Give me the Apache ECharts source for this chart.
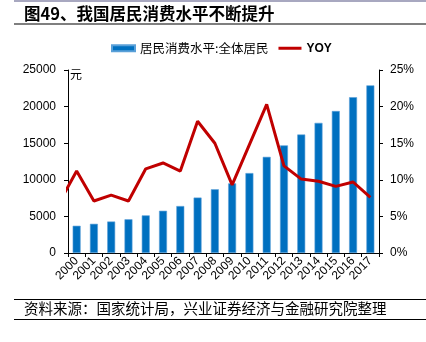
<!DOCTYPE html>
<html><head><meta charset="utf-8">
<script src="https://cdn.jsdelivr.net/npm/echarts@6/dist/echarts.min.js"></script>
<style>html,body{margin:0;padding:0;background:#fff}#c{width:426px;height:342px}</style>
</head><body><div id="c"></div>
<script>
const categories = ['2000','2001','2002','2003','2004','2005','2006','2007','2008','2009','2010','2011','2012','2013','2014','2015','2016','2017'];
const consumption = [3721,3987,4301,4606,5138,5771,6416,7572,8707,9514,10919,13134,14699,16190,17778,19397,21285,22902];
const yoyYears = [1999,2000,2001,2002,2003,2004,2005,2006,2007,2008,2009,2010,2011,2012,2013,2014,2015,2016,2017];
const yoy = [6.9,11.2,7.1,7.9,7.1,11.5,12.3,11.2,18.0,15.0,9.3,14.8,20.3,11.9,10.1,9.8,9.1,9.7,7.6];

const chart = echarts.init(document.getElementById('c'));
const fontCJK = '"Noto Sans CJK SC", sans-serif';
const fontNum = '"Liberation Sans", Arial, sans-serif';
chart.setOption({
  animation:false,
  grid:{left:68,right:47,top:70,bottom:89},
  legend:{top:37,left:106,itemGap:10,symbolKeepAspect:true,textStyle:{fontSize:12.5,color:'#000',fontFamily:fontCJK},
    data:[{name:'居民消费水平:全体居民',icon:'rect',itemStyle:{color:'#0070C0'}},
          {name:'YOY',icon:'path://M0,0H23V3H0Z',itemStyle:{color:'#C00000'},textStyle:{fontWeight:'bold',fontFamily:fontNum,fontSize:12}}],
    itemWidth:23,itemHeight:6},
  xAxis:[{type:'category',data:categories,boundaryGap:true,
    axisLine:{lineStyle:{color:'#000',width:1}},
    axisTick:{show:true,length:4,lineStyle:{color:'#000'}},
    axisLabel:{interval:0,rotate:45,fontSize:12,color:'#000',fontFamily:fontNum,margin:6}},
   {type:'value',show:false,min:1999.5,max:2017.5}],
  yAxis:[{type:'value',min:0,max:25000,interval:5000,
    axisLine:{show:true,lineStyle:{color:'#000'}},axisTick:{show:true,length:4,lineStyle:{color:'#000'}},
    splitLine:{show:false},axisLabel:{fontSize:12,color:'#000',fontFamily:fontNum,margin:12,formatter:v=>String(v)}},
   {type:'value',min:0,max:25,interval:5,position:'right',
    axisLine:{show:true,lineStyle:{color:'#000'}},axisTick:{show:true,length:4,lineStyle:{color:'#000'}},
    splitLine:{show:false},axisLabel:{fontSize:12,color:'#000',fontFamily:fontNum,margin:11,formatter:'{value}%'}}],
  series:[
    {name:'居民消费水平:全体居民',type:'bar',data:consumption,barWidth:'46%',
      itemStyle:{color:'#0070C0',borderColor:'#5aa0d8',borderWidth:0.6},xAxisIndex:0,yAxisIndex:0},
    {name:'YOY',type:'line',xAxisIndex:1,yAxisIndex:1,data:yoyYears.map((y,i)=>[y,yoy[i]]),
      symbol:'none',clip:true,lineStyle:{color:'#C00000',width:3},itemStyle:{color:'#C00000'}}
  ],
  graphic:[
    {type:'rect',shape:{x:14,y:0,width:412,height:2},style:{fill:'#a8a8c0'}},
    {type:'text',left:24,top:5,style:{text:'图49、我国居民消费水平不断提升',font:'bold 16.5px '+fontCJK,fill:'#000'}},
    {type:'rect',shape:{x:14,y:23.5,width:412,height:1},style:{fill:'#000'}},
    {type:'text',left:70,top:68,style:{text:'元',font:'12px '+fontCJK,fill:'#000'}},
    {type:'rect',shape:{x:14,y:299,width:412,height:1},style:{fill:'#000'}},
    {type:'text',left:24,top:301,style:{text:'资料来源：国家统计局，兴业证券经济与金融研究院整理',font:'14.5px '+fontCJK,fill:'#000'}},
    {type:'rect',shape:{x:14,y:319,width:412,height:1},style:{fill:'#000'}}
  ]
});
</script></body></html>
